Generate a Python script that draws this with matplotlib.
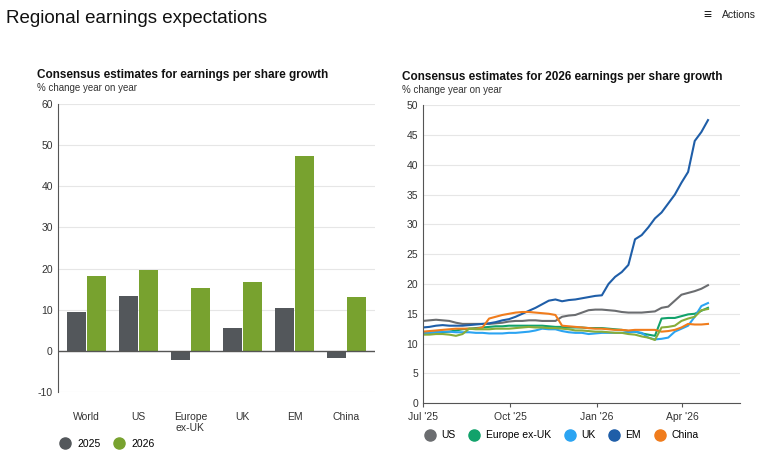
import matplotlib
matplotlib.use("Agg")
import matplotlib.pyplot as plt
import numpy as np
import pandas as pd

categories = ["World", "US", "Europe\nex-UK", "UK", "EM", "China"]
eps_2025 = [9.5, 13.3, -2.3, 5.6, 10.4, -1.8]
eps_2026 = [18.3, 19.6, 15.4, 16.7, 47.3, 13.1]

dates = pd.date_range("2025-07-01", periods=44, freq="7D")
us = [13.8,13.9,14.0,13.9,13.8,13.5,13.3,13.3,13.3,13.3,13.3,13.4,13.5,13.7,13.8,13.8,13.9,13.9,13.8,13.8,13.8,14.5,14.7,14.8,15.2,15.6,15.7,15.7,15.6,15.5,15.3,15.2,15.2,15.2,15.3,15.4,16.0,16.2,17.2,18.2,18.5,18.8,19.2,19.8]
europe = [11.7,11.8,11.9,11.9,12.0,12.2,12.4,12.5,12.6,12.7,12.8,12.9,12.9,13.0,13.0,13.0,13.0,13.0,13.0,12.9,12.8,12.8,12.7,12.7,12.7,12.6,12.6,12.6,12.5,12.4,12.3,12.1,12.0,11.7,11.5,11.3,14.2,14.3,14.3,14.6,14.9,15.0,15.5,16.0]
uk = [11.7,11.8,11.9,12.0,12.0,11.9,11.9,11.9,11.8,11.8,11.7,11.7,11.7,11.8,11.8,11.9,12.0,12.2,12.5,12.4,12.4,12.1,11.9,11.8,11.8,11.6,11.7,11.8,11.8,11.8,11.8,11.9,12.0,11.8,11.0,10.7,10.8,11.0,12.0,12.5,13.0,14.5,16.3,16.8]
em = [12.7,12.8,13.0,13.1,13.0,13.0,13.0,13.1,13.2,13.3,13.4,13.6,13.9,14.1,14.5,15.0,15.5,16.0,16.6,17.2,17.4,17.1,17.3,17.4,17.6,17.8,18.0,18.1,20.0,21.2,22.0,23.2,27.5,28.2,29.5,31.0,32.0,33.5,35.0,37.0,38.8,44.0,45.5,47.5]
china = [12.0,12.1,12.2,12.3,12.4,12.5,12.5,12.5,12.5,12.7,14.2,14.5,14.8,15.0,15.2,15.3,15.3,15.2,15.1,15.0,14.8,13.0,12.9,12.8,12.7,12.6,12.5,12.5,12.4,12.3,12.3,12.2,12.3,12.3,12.3,12.3,12.0,12.1,12.3,12.7,13.3,13.2,13.2,13.3]
world = [11.5,11.5,11.6,11.6,11.5,11.3,11.6,12.5,12.4,12.4,12.4,12.5,12.5,12.5,12.6,12.7,12.8,12.7,12.7,12.6,12.6,12.5,12.4,12.2,12.2,12.1,12.0,12.0,11.9,11.8,11.8,11.6,11.5,11.2,11.0,10.6,12.7,12.8,13.0,13.8,14.2,14.5,15.6,15.8]

c25, c26 = "#53575b", "#78a22f"
line_series = [("US", us, "#6b6d70"), ("Europe ex-UK", europe, "#12a26b"),
               ("UK", uk, "#2ba4f2"), ("EM", em, "#1f5ea8"), ("China", china, "#f07c1c")]

plt.rcParams["font.family"] = ["Liberation Sans", "DejaVu Sans"]
plt.rcParams["axes.unicode_minus"] = False
fig = plt.figure(figsize=(7.8, 4.76), dpi=100)
fig.text(0.008, 0.962, "Regional earnings expectations", fontsize=13.5, color="#111111", va="center")
fig.text(0.925, 0.968, "Actions", fontsize=7.5, color="#222222", va="center")
fig.text(0.902, 0.968, "\u2261", fontsize=10, color="#222222", va="center")

# Left chart
ax1 = fig.add_axes([0.074, 0.176, 0.407, 0.606])
x = np.arange(len(categories))
w = 0.36
ax1.bar(x - w/2 - 0.01, eps_2025, w, color=c25)
ax1.bar(x + w/2 + 0.01, eps_2026, w, color=c26)
ax1.set_ylim(-10, 60)
ax1.set_yticks(range(-10, 61, 10))
ax1.set_xlim(-0.55, 5.55)
ax1.set_xticks(x)
ax1.set_xticklabels(categories, fontsize=7.5, color="#333333")
ax1.tick_params(axis="x", length=0, pad=14)
ax1.tick_params(axis="y", length=0, labelsize=7.5, labelcolor="#333333")
ax1.grid(axis="y", color="#e6e6e6", lw=0.8)
ax1.set_axisbelow(True)
for s in ["top", "right", "bottom"]:
    ax1.spines[s].set_visible(False)
ax1.spines["left"].set_color("#555555")
ax1.axhline(0, color="#555555", lw=1)
ax1.text(-0.066, 1.09, "Consensus estimates for earnings per share growth", transform=ax1.transAxes,
         fontsize=8.5, fontweight="bold", color="#111111")
ax1.text(-0.066, 1.045, "% change year on year", transform=ax1.transAxes, fontsize=7, color="#333333")
h = [plt.Line2D([], [], marker="o", ls="", color=c, markersize=8) for c in (c25, c26)]
ax1.legend(h, ["2025", "2026"], loc="upper left", bbox_to_anchor=(-0.04, -0.13), ncol=2, frameon=False,
           fontsize=7.5, handletextpad=0.2, columnspacing=0.8)

# Right chart
ax2 = fig.add_axes([0.542, 0.153, 0.407, 0.626])
for name, vals, col in line_series:
    ax2.plot(dates, vals, color=col, lw=1.5, label=name)
ax2.plot(dates, world, color="#88ad3a", lw=1.5)
ax2.set_ylim(0, 50)
ax2.set_yticks(range(0, 51, 5))
ax2.set_xlim(pd.Timestamp("2025-07-01"), pd.Timestamp("2026-06-01"))
ticks = pd.to_datetime(["2025-07-01", "2025-10-01", "2026-01-01", "2026-04-01"])
ax2.set_xticks(ticks)
ax2.set_xticklabels(["Jul '25", "Oct '25", "Jan '26", "Apr '26"], fontsize=7.5, color="#333333")
ax2.tick_params(axis="x", length=3, color="#555555", labelsize=7.5)
ax2.tick_params(axis="y", length=0, labelsize=7.5, labelcolor="#333333")
ax2.grid(axis="y", color="#e6e6e6", lw=0.8)
ax2.set_axisbelow(True)
for s in ["top", "right"]:
    ax2.spines[s].set_visible(False)
ax2.spines["left"].set_color("#555555")
ax2.spines["bottom"].set_color("#555555")
ax2.text(-0.066, 1.085, "Consensus estimates for 2026 earnings per share growth", transform=ax2.transAxes,
         fontsize=8.5, fontweight="bold", color="#111111")
ax2.text(-0.066, 1.04, "% change year on year", transform=ax2.transAxes, fontsize=7, color="#333333")
h2 = [plt.Line2D([], [], marker="o", ls="", color=c, markersize=8) for _, _, c in line_series]
ax2.legend(h2, [n for n, _, _ in line_series], loc="upper left", bbox_to_anchor=(-0.04, -0.06), ncol=5,
           frameon=False, fontsize=7.5, handletextpad=0.1, columnspacing=0.8)

fig.savefig("out.png", dpi=100)
